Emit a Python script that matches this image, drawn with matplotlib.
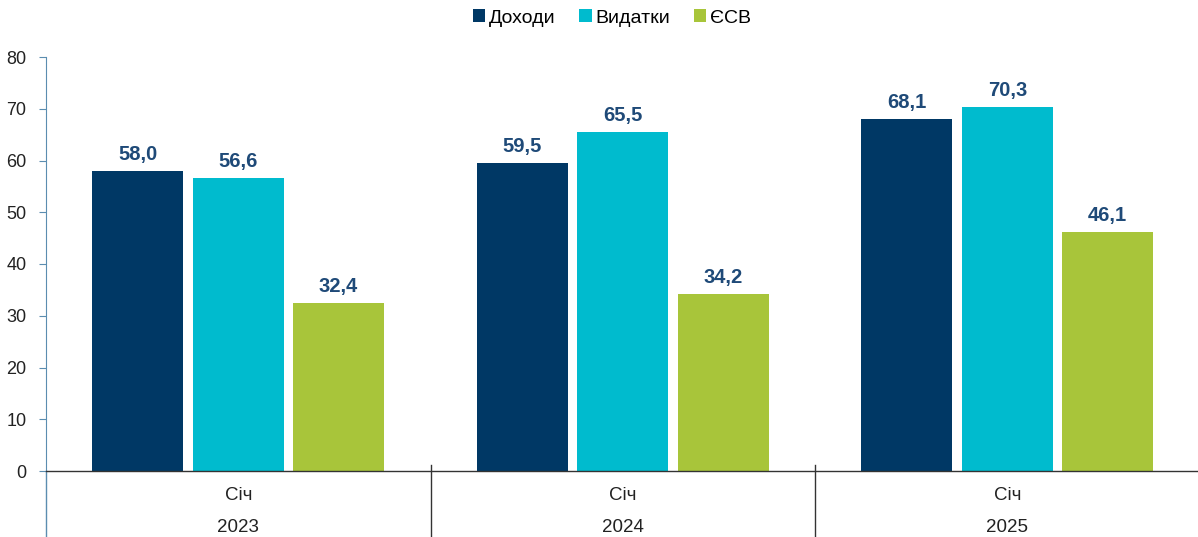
import matplotlib
matplotlib.use("Agg")
import matplotlib.pyplot as plt
from matplotlib.lines import Line2D
import matplotlib.transforms as mtrans
import numpy as np

plt.rcParams['font.family'] = ['Liberation Sans', 'DejaVu Sans']

years = ["2023", "2024", "2025"]
months = ["Січ", "Січ", "Січ"]
series_names = ["Доходи", "Видатки", "ЄСВ"]
dohody = [58.0, 59.5, 68.1]
vydatky = [56.6, 65.5, 70.3]
esv = [32.4, 34.2, 46.1]
colors = ["#003865", "#00BBCE", "#A8C53A"]

W, H = 1198, 537
fig = plt.figure(figsize=(W / 100, H / 100), dpi=100)
ax = fig.add_axes([46 / W, (H - 471) / H, (1199.5 - 46) / W, 414 / H])

x = np.arange(len(years))
width = 0.237
step = 0.261
for i, (vals, col, name) in enumerate(zip([dohody, vydatky, esv], colors, series_names)):
    pos = x + (i - 1) * step
    ax.bar(pos, vals, width=width, color=col, label=name, zorder=2)
    for p, v in zip(pos, vals):
        ax.annotate(f"{v:.1f}".replace(".", ","), (p, v), xytext=(0, 5),
                    textcoords="offset points", ha="center", va="bottom",
                    fontsize=14.5, fontweight="bold", color="#1F4A78")

ax.set_xlim(-0.5, len(years) - 0.5)
ax.set_ylim(0, 80)
ax.set_yticks(np.arange(0, 81, 10))
ax.tick_params(axis="y", labelsize=13, colors="#5B8DB0", labelcolor="#222222",
               length=5, direction="out", pad=9)
ax.set_xticks([])
for s in ["top", "right"]:
    ax.spines[s].set_visible(False)
ax.spines["left"].set_color("#5B8DB0")
ax.spines["bottom"].set_color("#333333")
ax.spines["bottom"].set_linewidth(1.0)

# group separators and multi-level labels
trans = mtrans.blended_transform_factory(ax.transData, ax.transAxes)
px = 1 / 414  # one pixel in axes-fraction (vertical)
for b in [-0.5, 0.5, 1.5, 2.5]:
    top = 6 * px if b != -0.5 else 0
    ax.add_line(Line2D([b, b], [top, -70 * px], transform=trans,
                       color="#333333" if b != -0.5 else "#5B8DB0",
                       lw=1.0, clip_on=False))
for xi, m, y in zip(x, months, years):
    ax.text(xi, -24 * px, m, transform=trans, ha="center", va="center",
            fontsize=13.5, color="#222222")
    ax.text(xi, -57 * px, y, transform=trans, ha="center", va="center",
            fontsize=13.5, color="#222222")

fig.legend(loc="center", bbox_to_anchor=(612 / W, 1 - 18 / H), ncol=3,
           frameon=False, fontsize=14, handlelength=0.65, handleheight=0.65,
           handletextpad=0.2, columnspacing=1.2)

fig.savefig("out.png", dpi=100)
